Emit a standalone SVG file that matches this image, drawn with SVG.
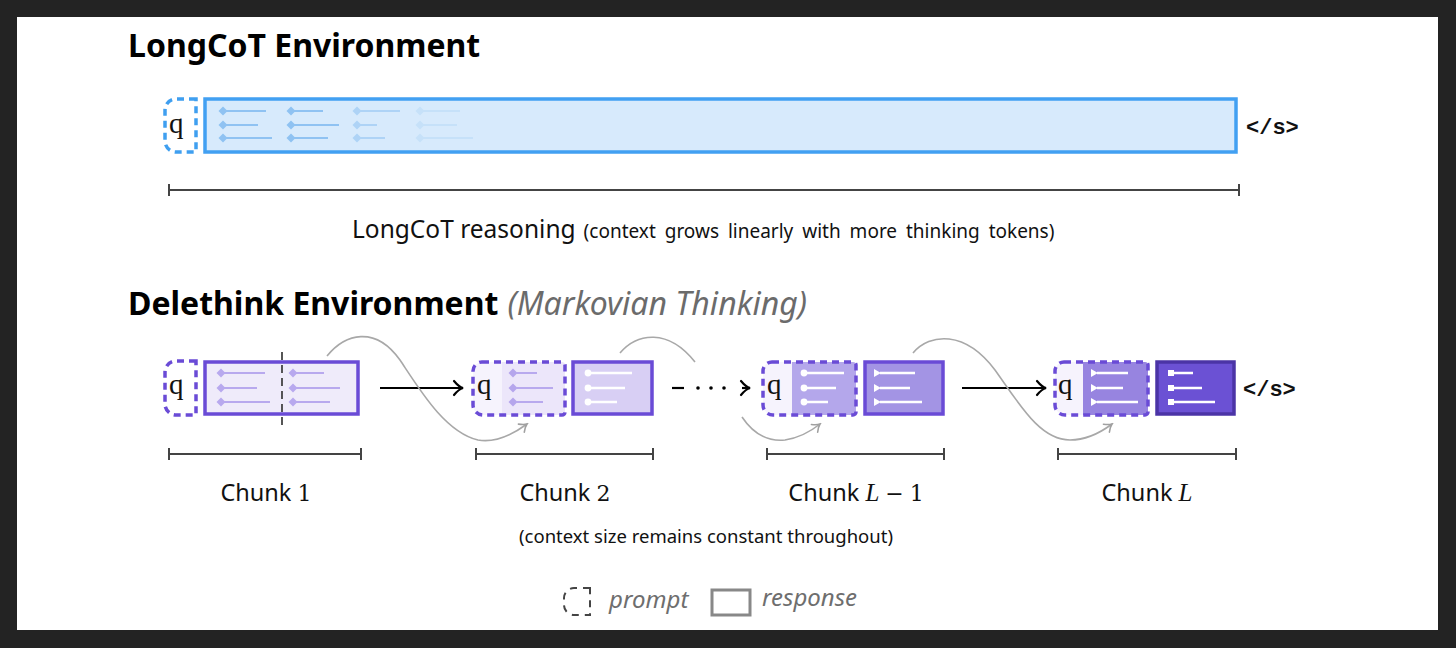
<svg xmlns="http://www.w3.org/2000/svg" width="1456" height="648" viewBox="0 0 1456 648">
<style>
.title{font-family:"Noto Sans","Open Sans",sans-serif;font-weight:700;font-size:32px;fill:#000}
.sub{font-family:"Noto Sans","Open Sans",sans-serif;font-style:italic;font-size:32px;fill:#6b6b6b}
.lbl{font-family:"Noto Sans","Open Sans",sans-serif;font-size:23.5px;fill:#111}
.lbl2{font-family:"Noto Sans","Open Sans",sans-serif;font-size:24.5px;fill:#111}
.small{font-family:"Noto Sans","Open Sans",sans-serif;font-size:19px;fill:#111;word-spacing:4px}
.small2{font-family:"Noto Sans","Open Sans",sans-serif;font-size:18.5px;fill:#111}
.math{font-family:"DejaVu Serif","Liberation Serif",serif;font-size:22px;fill:#111}
.mathi{font-family:"Liberation Serif","DejaVu Serif",serif;font-style:italic;font-size:25px;fill:#111}
.q{font-family:"Liberation Serif","DejaVu Serif",serif;font-size:29px;fill:#111}
.eos{font-family:"Liberation Mono","DejaVu Sans Mono",monospace;font-weight:700;font-size:22px;fill:#111}
.leg{font-family:"Noto Sans","Open Sans",sans-serif;font-style:italic;font-size:24px;fill:#6e6e6e}
.range{stroke:#444;stroke-width:2;fill:none}
.bdash{stroke:#3f9ff0;stroke-width:3.5;stroke-dasharray:7 5;fill:#fff}
.pdash{stroke:#6a4bd6;stroke-width:3.5;stroke-dasharray:7 5;fill:none}
.presp{stroke:#6a4bd6;stroke-width:3.5}
.curve{stroke:#a8a8a8;stroke-width:1.6;fill:none}
.arrow{stroke:#000;stroke-width:2.2;fill:none}
.ib1{stroke:#8fc2f2;stroke-width:2.2}
.ib3{stroke:#aed3f6;stroke-width:2.2}
.ib4{stroke:#c6e1f9;stroke-width:2.2}
.il{stroke:#b8a9ee;stroke-width:2.2}
.iw{stroke:#fff;stroke-width:2.4}
</style>
<defs>
<marker id="ah" viewBox="-11 -9 13 18" refX="0" refY="0" markerWidth="13" markerHeight="18" orient="auto" markerUnits="userSpaceOnUse">
<path d="M-9,-7 Q-4,-1 0,0 Q-4,1 -9,7" stroke="#000" stroke-width="2.2" fill="none" stroke-linecap="round"/>
</marker>
<marker id="gh" viewBox="-9 -7 11 14" refX="0" refY="0" markerWidth="11" markerHeight="14" orient="auto" markerUnits="userSpaceOnUse">
<path d="M-7,-5 Q-3,-1 0,0 Q-3,1 -7,5" stroke="#a0a0a0" stroke-width="1.6" fill="none" stroke-linecap="round"/>
</marker>
<path id="dia" d="M0,-4.5 L4.5,0 L0,4.5 L-4.5,0 Z"/>
<path id="tri" d="M-3,-4 L4,0 L-3,4 Z" fill="#fff"/>
</defs>

<rect x="0" y="0" width="1456" height="648" fill="#232323"/>
<rect x="17" y="17" width="1421" height="613" fill="#fff"/>

<!-- Titles -->
<text class="title" x="128" y="57">LongCoT Environment</text>
<text x="128" y="315"><tspan class="title">Delethink Environment</tspan><tspan class="sub" dx="9">(Markovian Thinking)</tspan></text>

<!-- LongCoT -->
<g id="longcot-prompt">
<path class="bdash" d="M196,99 H176 A11,11 0 0 0 165,110 V141 A11,11 0 0 0 176,152 H196 Z"/>
<text class="q" x="169" y="133">q</text>
</g>
<g id="longcot-response">
<rect x="205" y="99" width="1031" height="53" fill="#d7eafc" stroke="#42a0f2" stroke-width="3.5"/>
<g fill="#8fc2f2">
<use href="#dia" x="223" y="111"/><use href="#dia" x="223" y="125"/><use href="#dia" x="223" y="138"/>
<use href="#dia" x="291" y="111"/><use href="#dia" x="291" y="125"/><use href="#dia" x="291" y="138"/>
</g>
<g fill="#aed3f6">
<use href="#dia" x="357" y="111"/><use href="#dia" x="357" y="125"/><use href="#dia" x="357" y="138"/>
</g>
<g fill="#c6e1f9">
<use href="#dia" x="420" y="111"/><use href="#dia" x="420" y="125"/><use href="#dia" x="420" y="138"/>
</g>
<path class="ib1" d="M226,111H266M226,125H258M226,138H272M294,111H323M294,125H339M294,138H328"/>
<path class="ib3" d="M360,111H400M360,125H377M360,138H385"/>
<path class="ib4" d="M423,111H460M423,125H457M423,138H473"/>
</g>
<g id="longcot-eos"><text class="eos" x="1246" y="134">&lt;/s&gt;</text></g>
<g id="longcot-range">
<path class="range" d="M169,190H1239M169,184V196M1239,184V196"/>
<text x="352" y="238"><tspan class="lbl2">LongCoT reasoning</tspan><tspan class="small" dx="8">(context grows linearly with more thinking tokens)</tspan></text>
</g>

<!-- Connectors -->
<g id="connectors">
<path class="arrow" d="M380,388H463" marker-end="url(#ah)"/>
<path class="arrow" d="M672,388H684"/>
<circle cx="698" cy="388" r="1.8" fill="#000"/>
<circle cx="711" cy="388" r="1.8" fill="#000"/>
<circle cx="724" cy="388" r="1.8" fill="#000"/>
<path class="arrow" d="M742,388H750" marker-end="url(#ah)"/>
<path class="arrow" d="M962,388H1046" marker-end="url(#ah)"/>
<path class="curve" d="M327,356 C345,334 375,325 400,360 C420,390 445,432 478,440 C495,443 512,435 527,424" marker-end="url(#gh)"/>
<path class="curve" d="M620,353 C637,333 668,328 695,362"/>
<path class="curve" d="M742,417 C752,432 765,442 785,440 C798,438 810,432 820,424" marker-end="url(#gh)"/>
<path class="curve" d="M913,353 C930,333 965,330 995,370 C1020,405 1040,440 1070,440 C1085,440 1100,433 1112,424" marker-end="url(#gh)"/>
</g>

<!-- Chunk 1 -->
<g id="chunk1">
<path class="pdash" d="M196,361 H176 A11,11 0 0 0 165,372 V404 A11,11 0 0 0 176,415 H196 Z" fill="#fff"/>
<text class="q" x="169" y="394">q</text>
<rect x="205" y="362" width="153" height="52" fill="#efebfa" class="presp"/>
<g fill="#b8a9ee">
<use href="#dia" x="221" y="373"/><use href="#dia" x="221" y="388"/><use href="#dia" x="221" y="402"/>
<use href="#dia" x="293" y="373"/><use href="#dia" x="293" y="388"/><use href="#dia" x="293" y="402"/>
</g>
<path class="il" d="M224,373H265M224,388H257M224,402H270M296,373H324M296,388H340M296,402H330"/>
<path d="M282,352V425" stroke="#444" stroke-width="1.8" stroke-dasharray="8 5"/>
</g>

<!-- Chunk 2 -->
<g id="chunk2">
<path d="M502,362 H562 A3,3 0 0 1 565,365 V412 A3,3 0 0 1 562,415 H502 Z" fill="#ece6fa"/>
<path d="M502,362 H482 A9,9 0 0 0 473,371 V405 A10,10 0 0 0 483,415 H502 Z" fill="#f6f3fd"/>
<path class="pdash" d="M482,362 H562 A3,3 0 0 1 565,365 V412 A3,3 0 0 1 562,415 H483 A10,10 0 0 1 473,405 V371 A9,9 0 0 1 482,362 Z"/>
<text class="q" x="477" y="394">q</text>
<g fill="#b5a6ec"><use href="#dia" x="513" y="373"/><use href="#dia" x="513" y="388"/><use href="#dia" x="513" y="402"/></g>
<path class="il" d="M516,373H537M516,388H553M516,402H543"/>
<rect x="573" y="362" width="79" height="52" fill="#d8cff4" class="presp"/>
<g fill="#fff"><circle cx="588" cy="373" r="3.4"/><circle cx="588" cy="388" r="3.4"/><circle cx="588" cy="402" r="3.4"/></g>
<path class="iw" d="M590,373H632M590,388H625M590,402H617"/>
</g>

<!-- Chunk L-1 -->
<g id="chunkL1">
<path d="M792,362 H853 A3,3 0 0 1 856,365 V412 A3,3 0 0 1 853,415 H792 Z" fill="#b4a7eb"/>
<path d="M792,362 H772 A9,9 0 0 0 763,371 V405 A10,10 0 0 0 773,415 H792 Z" fill="#f6f3fd"/>
<path class="pdash" d="M772,362 H853 A3,3 0 0 1 856,365 V412 A3,3 0 0 1 853,415 H773 A10,10 0 0 1 763,405 V371 A9,9 0 0 1 772,362 Z"/>
<text class="q" x="767" y="394">q</text>
<g fill="#fff"><circle cx="804" cy="373" r="3.4"/><circle cx="804" cy="388" r="3.4"/><circle cx="804" cy="402" r="3.4"/></g>
<path class="iw" d="M806,373H844M806,388H836M806,402H828"/>
<rect x="865" y="362" width="78" height="52" fill="#a394e4" class="presp"/>
<use href="#tri" x="877" y="373"/><use href="#tri" x="877" y="388"/><use href="#tri" x="877" y="402"/>
<path class="iw" d="M880,373H915M880,388H910M880,402H922"/>
</g>

<!-- Chunk L -->
<g id="chunkL">
<path d="M1083,362 H1145 A3,3 0 0 1 1148,365 V412 A3,3 0 0 1 1145,415 H1083 Z" fill="#9784e0"/>
<path d="M1083,362 H1064 A9,9 0 0 0 1055,371 V405 A10,10 0 0 0 1065,415 H1083 Z" fill="#f6f3fd"/>
<path class="pdash" d="M1064,362 H1145 A3,3 0 0 1 1148,365 V412 A3,3 0 0 1 1145,415 H1065 A10,10 0 0 1 1055,405 V371 A9,9 0 0 1 1064,362 Z"/>
<text class="q" x="1058" y="394">q</text>
<use href="#tri" x="1094" y="373"/><use href="#tri" x="1094" y="388"/><use href="#tri" x="1094" y="402"/>
<path class="iw" d="M1097,373H1128M1097,388H1123M1097,402H1138"/>
<rect x="1157" y="362" width="77" height="52" fill="#6b51d4" stroke="#4b34a6" stroke-width="3.5"/>
<g fill="#fff"><rect x="1168" y="370" width="6" height="6"/><rect x="1168" y="385" width="6" height="6"/><rect x="1168" y="399" width="6" height="6"/></g>
<path class="iw" d="M1174,373H1193M1174,388H1202M1174,402H1215"/>
</g>
<g id="chunkL-eos"><text class="eos" x="1243" y="396">&lt;/s&gt;</text></g>

<!-- Chunk ranges -->
<g id="chunk-ranges">
<path class="range" d="M169,454H361M169,448V460M361,448V460"/>
<path class="range" d="M476,454H653M476,448V460M653,448V460"/>
<path class="range" d="M767,454H944M767,448V460M944,448V460"/>
<path class="range" d="M1058,454H1236M1058,448V460M1236,448V460"/>
<text x="266" y="501" text-anchor="middle"><tspan class="lbl">Chunk </tspan><tspan class="math">1</tspan></text>
<text x="565" y="501" text-anchor="middle"><tspan class="lbl">Chunk </tspan><tspan class="math">2</tspan></text>
<text x="856" y="501" text-anchor="middle"><tspan class="lbl">Chunk </tspan><tspan class="mathi">L</tspan><tspan class="math" dx="6">−</tspan><tspan class="math" dx="6">1</tspan></text>
<text x="1147" y="501" text-anchor="middle"><tspan class="lbl">Chunk </tspan><tspan class="mathi">L</tspan></text>
<text class="small2" x="706" y="543" text-anchor="middle">(context size remains constant throughout)</text>
</g>

<!-- Legend -->
<g id="legend">
<path d="M590,588 H574 A10,10 0 0 0 564,598 V605 A10,10 0 0 0 574,615 H590 Z" stroke="#444" stroke-width="2" stroke-dasharray="7 6" fill="none"/>
<text class="leg" x="609" y="608">prompt</text>
<rect x="712" y="590" width="38" height="25" fill="#fff" stroke="#888" stroke-width="3"/>
<text class="leg" x="762" y="606">response</text>
</g>
</svg>
